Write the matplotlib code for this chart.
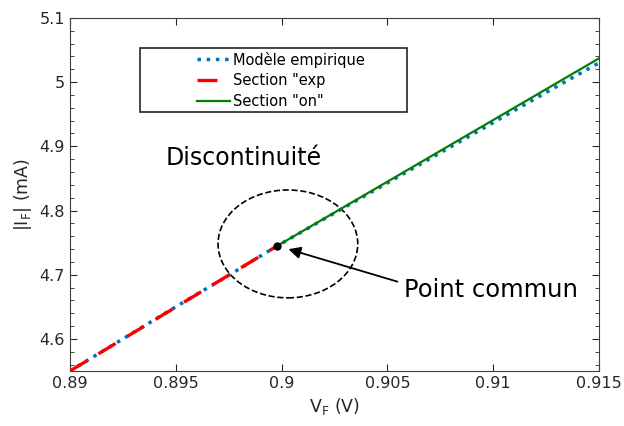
import matplotlib.pyplot as plt
from matplotlib.patches import Ellipse, Rectangle
from matplotlib.ticker import MultipleLocator

# empirical model points (V, mA)
v_model = [0.890, 0.8925, 0.895, 0.8975, 0.8998, 0.9025, 0.905, 0.9075, 0.910, 0.9125, 0.915]
i_model = [4.550, 4.600, 4.650, 4.699, 4.745, 4.796, 4.843, 4.890, 4.937, 4.984, 5.030]

# section "exp"
v_exp = [0.890, 0.8998]
i_exp = [4.550, 4.745]

# section "on"
v_on = [0.8998, 0.915]
i_on = [4.745, 5.037]

# common point
v_pt, i_pt = 0.8998, 4.745

fig = plt.figure(figsize=(6.24, 4.26), dpi=100)
ax = fig.add_axes([0.112, 0.129, 0.848, 0.829])

ax.plot(v_model, i_model, ":", color="#0072BD", lw=2.5, label="Modèle empirique", zorder=2)
ax.plot(v_exp, i_exp, color="red", lw=2.4, dashes=(6, 4), label='Section "exp', zorder=3)
ax.plot(v_on, i_on, "-", color="green", lw=1.6, label='Section "on"', zorder=2)
ax.plot(v_pt, i_pt, "o", color="black", ms=5, zorder=4)

ax.add_patch(Ellipse((0.9003, 4.748), 0.0066, 0.168, fill=False, ls="--", lw=1.2, color="black"))
ax.annotate("", xy=(0.9002, 4.741), xytext=(0.9056, 4.688),
            arrowprops=dict(arrowstyle="-|>", color="black", lw=1.3, mutation_scale=18))
ax.text(0.9058, 4.676, "Point commun", fontsize=17.5, va="center", ha="left")
ax.text(0.8945, 4.882, "Discontinuité", fontsize=17, va="center", ha="left")

ax.set_xlim(0.89, 0.915)
ax.set_ylim(4.55, 5.1)
ax.set_xticks([0.89, 0.895, 0.9, 0.905, 0.91, 0.915])
ax.set_xticklabels(["0.89", "0.895", "0.9", "0.905", "0.91", "0.915"])
ax.set_yticks([4.6, 4.7, 4.8, 4.9, 5.0, 5.1])
ax.set_yticklabels(["4.6", "4.7", "4.8", "4.9", "5", "5.1"])
ax.yaxis.set_minor_locator(MultipleLocator(0.02))
ax.tick_params(which="both", direction="in", top=True, right=True, labelsize=11.5, colors="#262626")
ax.tick_params(which="major", length=5)
ax.tick_params(which="minor", length=3)
for s in ax.spines.values():
    s.set_color("#404040")

ax.set_xlabel("V$_\\mathregular{F}$ (V)", fontsize=12.5, color="#262626")
ax.set_ylabel("|I$_\\mathregular{F}$| (mA)", fontsize=12.5, color="#262626")

# legend frame drawn by hand, wider than the legend content
ax.add_patch(Rectangle((140 / 624, 1 - 112 / 426), 267 / 624, 64 / 426, transform=fig.transFigure,
                       facecolor="white", edgecolor="#262626", lw=1.2, zorder=4.5, clip_on=False))
ax.legend(loc="upper left", bbox_to_anchor=(196.5 / 624, 1 - 51.5 / 426), bbox_transform=fig.transFigure,
          fontsize=10.5, frameon=False, handlelength=2.33, handletextpad=0.2,
          borderpad=0, labelspacing=0.4, borderaxespad=0)

plt.savefig("out.png")
